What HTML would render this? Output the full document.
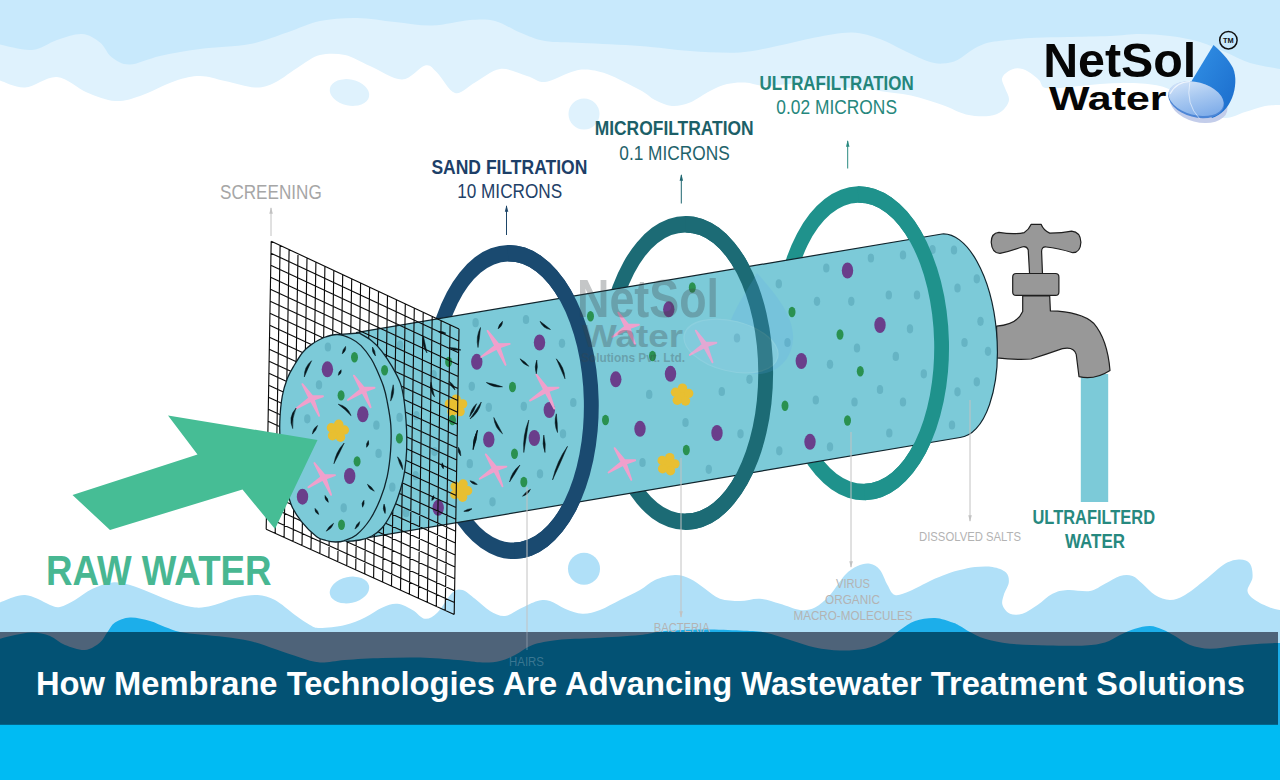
<!DOCTYPE html>
<html lang="en">
<head>
<meta charset="utf-8">
<title>How Membrane Technologies Are Advancing Wastewater Treatment Solutions</title>
<style>
html,body{margin:0;padding:0;background:#fff;}
body{width:1280px;height:780px;overflow:hidden;font-family:"Liberation Sans",sans-serif;}
svg{display:block;}
</style>
</head>
<body>
<svg width="1280" height="780" viewBox="0 0 1280 780">
<rect x="0" y="0" width="1280" height="780" fill="#ffffff"/>
<path d="M0 0 H1280 V105.0 L1280.0 105.0 C1277.5 105.2 1270.8 104.8 1265.0 106.0 C1259.2 107.2 1251.7 110.0 1245.0 112.0 C1238.3 114.0 1232.5 118.3 1225.0 118.0 C1217.5 117.7 1207.5 113.8 1200.0 110.0 C1192.5 106.2 1186.7 99.0 1180.0 95.0 C1173.3 91.0 1168.3 88.0 1160.0 86.0 C1151.7 84.0 1140.0 83.3 1130.0 83.0 C1120.0 82.7 1110.0 83.3 1100.0 84.0 C1090.0 84.7 1079.1 86.3 1070.0 87.0 C1060.9 87.7 1050.8 89.2 1045.6 88.0 C1040.4 86.8 1041.9 82.8 1039.0 80.0 C1036.1 77.2 1031.6 73.4 1028.0 71.4 C1024.4 69.5 1020.8 68.3 1017.5 68.3 C1014.2 68.3 1010.6 69.7 1008.0 71.4 C1005.4 73.1 1002.5 75.6 1002.0 78.4 C1001.5 81.2 1003.8 84.4 1005.0 88.0 C1006.2 91.6 1009.5 96.2 1009.0 100.0 C1008.5 103.8 1005.3 108.3 1002.0 111.0 C998.7 113.7 995.0 115.4 989.0 116.0 C983.0 116.6 973.8 116.2 966.0 114.4 C958.2 112.6 951.7 108.1 942.5 105.0 C933.3 101.9 921.4 97.9 911.0 95.6 C900.6 93.3 887.7 92.3 880.0 91.0 C872.3 89.7 871.7 88.6 865.0 88.0 C858.3 87.4 848.3 88.0 840.0 87.5 C831.7 87.0 823.3 85.6 815.0 85.0 C806.7 84.4 798.3 83.8 790.0 84.0 C781.7 84.2 772.5 86.2 765.0 86.0 C757.5 85.8 751.3 82.8 745.0 82.5 C738.7 82.2 732.8 82.6 727.0 84.0 C721.2 85.4 716.2 87.9 710.0 91.0 C703.8 94.1 696.3 100.0 690.0 102.5 C683.7 105.0 677.8 106.4 672.0 106.0 C666.2 105.6 660.3 102.7 655.0 100.0 C649.7 97.3 648.0 94.3 640.0 90.0 C632.0 85.7 616.2 77.4 607.0 74.0 C597.8 70.6 591.2 69.8 585.0 69.5 C578.8 69.2 576.7 70.4 570.0 72.5 C563.3 74.6 552.2 81.4 545.0 82.0 C537.8 82.6 534.5 78.2 527.0 76.0 C519.5 73.8 508.7 67.9 500.0 69.0 C491.3 70.1 482.5 78.5 475.0 82.5 C467.5 86.5 461.3 94.7 455.0 93.0 C448.7 91.3 442.0 77.1 437.0 72.5 C432.0 67.9 430.8 64.3 425.0 65.5 C419.2 66.7 411.2 79.4 402.0 79.5 C392.8 79.6 379.5 70.1 370.0 66.0 C360.5 61.9 353.3 56.8 345.0 55.0 C336.7 53.2 327.5 53.2 320.0 55.0 C312.5 56.8 307.5 61.4 300.0 66.0 C292.5 70.6 282.5 78.9 275.0 82.5 C267.5 86.1 263.3 87.8 255.0 87.5 C246.7 87.2 234.2 82.9 225.0 81.0 C215.8 79.1 208.3 76.0 200.0 76.0 C191.7 76.0 185.0 77.7 175.0 81.0 C165.0 84.3 150.0 92.7 140.0 96.0 C130.0 99.3 123.8 101.6 115.0 101.0 C106.2 100.4 96.7 96.5 87.0 92.5 C77.3 88.5 67.3 77.8 57.0 77.0 C46.7 76.2 34.5 86.9 25.0 87.5 C15.5 88.1 4.2 81.7 0.0 80.5 L0 0Z" fill="#dff2fd"/>
<path d="M0 0 H1280 V69.0 L1280.0 69.0 C1275.0 68.0 1259.2 65.8 1250.0 63.0 C1240.8 60.2 1233.3 55.5 1225.0 52.0 C1216.7 48.5 1209.2 44.7 1200.0 42.0 C1190.8 39.3 1180.0 37.3 1170.0 36.0 C1160.0 34.7 1150.0 34.0 1140.0 34.0 C1130.0 34.0 1122.1 35.5 1110.0 36.0 C1097.9 36.5 1079.8 36.7 1067.5 37.0 C1055.2 37.3 1045.1 37.4 1036.0 37.8 C1026.9 38.2 1020.8 38.6 1013.0 39.4 C1005.2 40.2 995.5 40.9 989.0 42.5 C982.5 44.1 979.2 45.9 974.0 48.8 C968.8 51.6 963.2 57.2 958.0 59.7 C952.8 62.2 947.7 63.4 942.5 63.6 C937.3 63.8 933.6 63.3 927.0 61.0 C920.4 58.7 910.8 53.7 903.0 50.0 C895.2 46.3 888.5 41.9 880.0 39.0 C871.5 36.1 862.8 32.8 852.0 32.5 C841.2 32.2 827.5 35.2 815.0 37.5 C802.5 39.8 789.5 43.5 777.0 46.0 C764.5 48.5 754.5 51.7 740.0 52.5 C725.5 53.3 706.7 52.1 690.0 51.0 C673.3 49.9 658.0 47.3 640.0 46.0 C622.0 44.7 597.8 43.8 582.0 43.0 C566.2 42.2 555.3 42.8 545.0 41.0 C534.7 39.2 528.3 35.8 520.0 32.5 C511.7 29.2 503.3 23.1 495.0 21.0 C486.7 18.9 480.5 19.2 470.0 20.0 C459.5 20.8 444.5 25.2 432.0 25.5 C419.5 25.8 407.5 23.2 395.0 22.0 C382.5 20.8 369.5 18.2 357.0 18.0 C344.5 17.8 331.7 18.6 320.0 21.0 C308.3 23.4 298.7 28.7 287.0 32.5 C275.3 36.3 264.5 41.2 250.0 44.0 C235.5 46.8 215.0 47.0 200.0 49.0 C185.0 51.0 171.7 53.4 160.0 56.0 C148.3 58.6 138.0 64.2 130.0 64.5 C122.0 64.8 117.0 61.2 112.0 57.5 C107.0 53.8 105.0 46.4 100.0 42.5 C95.0 38.6 89.2 34.4 82.0 34.0 C74.8 33.6 65.3 37.3 57.0 40.0 C48.7 42.7 41.5 49.2 32.0 50.0 C22.5 50.8 5.3 45.4 0.0 44.5 L0 0Z" fill="#c8e9fc"/>
<ellipse cx="349.5" cy="92.5" rx="20" ry="13" transform="rotate(12 349.5 92.5)" fill="#dff2fd"/>
<circle cx="584" cy="114" r="15.5" fill="#dff2fd"/>
<path d="M0 780 V602.5 L0.0 602.5 C2.1 601.7 8.3 598.8 12.5 597.5 C16.7 596.2 20.8 594.8 25.0 595.0 C29.2 595.2 33.3 597.1 37.5 598.8 C41.7 600.4 46.2 603.6 50.0 605.0 C53.8 606.4 55.8 607.8 60.0 607.0 C64.2 606.2 69.6 603.0 75.0 600.0 C80.4 597.0 86.2 591.7 92.5 588.8 C98.8 585.8 106.2 583.1 112.5 582.5 C118.8 581.9 123.8 583.3 130.0 585.0 C136.2 586.7 142.5 589.6 150.0 592.5 C157.5 595.4 167.5 600.0 175.0 602.5 C182.5 605.0 188.8 607.0 195.0 607.5 C201.2 608.0 205.4 607.2 212.5 605.5 C219.6 603.8 230.0 599.2 237.5 597.5 C245.0 595.8 251.2 594.6 257.5 595.0 C263.8 595.4 268.8 596.7 275.0 600.0 C281.2 603.3 289.2 610.8 295.0 615.0 C300.8 619.2 305.8 622.8 310.0 625.0 C314.2 627.2 314.2 628.0 320.0 628.0 C325.8 628.0 337.5 626.8 345.0 625.0 C352.5 623.2 358.8 620.4 365.0 617.5 C371.2 614.6 377.1 609.8 382.5 607.5 C387.9 605.2 392.5 603.3 397.5 603.8 C402.5 604.2 407.9 607.5 412.5 610.0 C417.1 612.5 420.8 618.3 425.0 618.8 C429.2 619.2 432.9 616.9 437.5 612.5 C442.1 608.1 448.3 596.2 452.5 592.5 C456.7 588.8 458.8 589.0 462.5 590.0 C466.2 591.0 470.4 595.2 475.0 598.8 C479.6 602.2 485.0 608.1 490.0 611.0 C495.0 613.9 500.0 616.4 505.0 616.0 C510.0 615.6 514.6 611.2 520.0 608.8 C525.4 606.2 532.5 602.3 537.5 601.0 C542.5 599.7 545.4 599.7 550.0 601.0 C554.6 602.3 559.6 606.6 565.0 608.8 C570.4 610.9 576.7 613.5 582.5 613.8 C588.3 614.0 593.8 612.3 600.0 610.0 C606.2 607.7 613.3 603.3 620.0 600.0 C626.7 596.7 634.2 593.3 640.0 590.0 C645.8 586.7 649.2 582.5 655.0 580.0 C660.8 577.5 669.2 575.2 675.0 575.0 C680.8 574.8 685.0 576.5 690.0 578.8 C695.0 581.0 700.0 585.4 705.0 588.8 C710.0 592.1 714.2 596.7 720.0 598.8 C725.8 600.8 733.3 601.0 740.0 601.0 C746.7 601.0 753.3 598.3 760.0 598.8 C766.7 599.2 773.3 601.9 780.0 603.8 C786.7 605.6 794.2 609.4 800.0 610.0 C805.8 610.6 810.0 610.0 815.0 607.5 C820.0 605.0 825.0 600.4 830.0 595.0 C835.0 589.6 840.4 579.8 845.0 575.0 C849.6 570.2 853.3 567.9 857.5 566.0 C861.7 564.1 866.2 563.1 870.0 563.8 C873.8 564.4 877.1 566.5 880.0 570.0 C882.9 573.5 885.0 580.8 887.5 585.0 C890.0 589.2 891.2 594.0 895.0 595.0 C898.8 596.0 904.2 593.3 910.0 591.0 C915.8 588.7 923.8 583.9 930.0 581.0 C936.2 578.1 942.5 575.6 947.5 573.8 C952.5 571.9 955.4 571.1 960.0 570.0 C964.6 568.9 969.6 567.5 975.0 567.0 C980.4 566.5 987.3 566.1 992.5 567.0 C997.7 567.9 1003.3 569.9 1006.0 572.5 C1008.7 575.1 1009.1 578.8 1008.8 582.5 C1008.4 586.2 1004.8 591.2 1003.8 595.0 C1002.7 598.8 1001.5 601.9 1002.5 605.0 C1003.5 608.1 1006.7 612.3 1010.0 613.8 C1013.3 615.2 1017.9 615.2 1022.5 613.8 C1027.1 612.3 1032.5 608.3 1037.5 605.0 C1042.5 601.7 1047.5 596.2 1052.5 593.8 C1057.5 591.2 1061.2 590.5 1067.5 590.0 C1073.8 589.5 1083.8 592.0 1090.0 591.0 C1096.2 590.0 1100.0 586.2 1105.0 583.8 C1110.0 581.2 1115.4 577.3 1120.0 576.0 C1124.6 574.7 1128.8 574.7 1132.5 576.0 C1136.2 577.3 1138.8 580.6 1142.5 583.8 C1146.2 586.9 1150.4 592.3 1155.0 595.0 C1159.6 597.7 1165.0 600.0 1170.0 600.0 C1175.0 600.0 1179.2 598.3 1185.0 595.0 C1190.8 591.7 1198.3 585.2 1205.0 580.0 C1211.7 574.8 1219.2 567.2 1225.0 563.8 C1230.8 560.3 1235.8 559.5 1240.0 559.5 C1244.2 559.5 1247.9 560.8 1250.0 563.8 C1252.1 566.8 1252.9 573.0 1252.5 577.5 C1252.1 582.0 1247.1 587.2 1247.5 591.0 C1247.9 594.8 1251.2 597.2 1255.0 600.0 C1258.8 602.8 1265.8 605.8 1270.0 607.5 C1274.2 609.2 1278.3 609.6 1280.0 610.0 V780Z" fill="#b0e0f8"/>
<ellipse cx="349.5" cy="590" rx="20" ry="13" transform="rotate(-12 349.5 590)" fill="#b0e0f8"/>
<circle cx="584" cy="568.75" r="16" fill="#b0e0f8"/>
<path d="M0 780 V638.8 L0.0 638.8 C2.5 638.1 9.6 636.0 15.0 635.0 C20.4 634.0 26.7 632.3 32.5 632.5 C38.3 632.7 44.6 633.9 50.0 636.0 C55.4 638.1 59.2 642.7 65.0 645.0 C70.8 647.3 79.2 650.4 85.0 650.0 C90.8 649.6 96.2 645.5 100.0 642.5 C103.8 639.5 105.0 635.3 107.5 632.0 C110.0 628.7 111.2 624.9 115.0 622.5 C118.8 620.1 124.2 617.8 130.0 617.5 C135.8 617.2 144.2 619.4 150.0 621.0 C155.8 622.6 160.0 625.2 165.0 627.0 C170.0 628.8 174.2 630.8 180.0 632.0 C185.8 633.2 192.5 633.7 200.0 634.5 C207.5 635.3 216.7 635.9 225.0 637.0 C233.3 638.1 241.7 639.0 250.0 641.0 C258.3 643.0 266.7 646.2 275.0 649.0 C283.3 651.8 292.5 655.2 300.0 657.5 C307.5 659.8 312.5 662.1 320.0 662.5 C327.5 662.9 334.6 660.8 345.0 660.0 C355.4 659.2 370.0 658.4 382.5 658.0 C395.0 657.6 407.5 657.2 420.0 657.5 C432.5 657.8 447.1 659.2 457.5 660.0 C467.9 660.8 475.4 662.3 482.5 662.5 C489.6 662.7 494.6 662.2 500.0 661.0 C505.4 659.8 509.6 657.7 515.0 655.0 C520.4 652.3 525.4 647.5 532.5 645.0 C539.6 642.5 547.1 641.2 557.5 640.0 C567.9 638.8 581.2 638.8 595.0 638.0 C608.8 637.2 628.3 636.2 640.0 635.0 C651.7 633.8 654.6 631.9 665.0 631.0 C675.4 630.1 690.0 629.6 702.5 629.5 C715.0 629.4 729.6 630.0 740.0 630.5 C750.4 631.0 756.7 630.9 765.0 632.5 C773.3 634.1 781.7 637.5 790.0 640.0 C798.3 642.5 806.7 645.8 815.0 647.5 C823.3 649.2 831.7 650.3 840.0 650.5 C848.3 650.7 857.5 650.3 865.0 648.8 C872.5 647.2 879.2 644.1 885.0 641.0 C890.8 637.9 895.0 633.3 900.0 630.0 C905.0 626.7 909.2 623.0 915.0 621.0 C920.8 619.0 928.8 617.8 935.0 618.0 C941.2 618.2 948.3 621.2 952.5 622.5 C956.7 623.8 957.1 624.4 960.0 626.0 C962.9 627.6 965.8 629.9 970.0 632.0 C974.2 634.1 978.3 636.8 985.0 638.8 C991.7 640.7 999.6 642.6 1010.0 643.8 C1020.4 644.9 1035.0 645.2 1047.5 645.5 C1060.0 645.8 1075.4 646.0 1085.0 645.5 C1094.6 645.0 1099.2 644.2 1105.0 642.5 C1110.8 640.8 1115.0 637.3 1120.0 635.0 C1125.0 632.7 1130.0 630.2 1135.0 628.8 C1140.0 627.2 1145.4 625.9 1150.0 626.0 C1154.6 626.1 1158.3 627.8 1162.5 629.5 C1166.7 631.2 1170.4 633.4 1175.0 636.0 C1179.6 638.6 1184.2 642.9 1190.0 645.0 C1195.8 647.1 1202.5 648.6 1210.0 648.8 C1217.5 648.9 1226.7 646.8 1235.0 646.0 C1243.3 645.2 1252.5 644.2 1260.0 643.8 C1267.5 643.2 1276.7 643.1 1280.0 643.0 V780Z" fill="#1caeea"/>
<rect x="1080.8" y="374" width="27.4" height="128" fill="#7ccad8"/>
<path d="M1022.7 295.9 L1022.7 311.6 Q1017.3 324.3 996.6 326.2 L996.6 357.8 Q1016.2 360.1 1031.2 359.0 Q1046.2 354.3 1062.4 348.6 Q1073.9 346.3 1076.2 354.3 L1079.0 376.7 Q1094.7 380.4 1110.0 370.5 Q1107.4 339.3 1093.6 323.2 Q1080.9 311.6 1050.4 310.9 L1049.7 295.9 Z" fill="#989898" stroke="#1e1e1e" stroke-width="1.2" stroke-linejoin="round"/>
<path d="M1029.6 274.2 L1028.2 249.7 Q1026.6 245.8 1022.0 247.0 Q1009.3 251.6 1000.0 253.4 Q991.9 253.4 991.2 242.3 Q991.2 233.1 998.9 232.4 Q1013.9 234.9 1024.3 232.6 Q1028.9 229.6 1031.2 224.3 L1041.1 224.3 Q1043.4 230.3 1049.7 233.1 Q1062.4 233.1 1071.6 231.2 Q1080.4 231.9 1080.9 242.3 Q1080.4 252.7 1072.8 252.7 Q1057.8 248.1 1046.2 247.0 Q1041.6 246.5 1041.6 251.6 L1042.5 274.2 Z" fill="#989898" stroke="#1e1e1e" stroke-width="1.2" stroke-linejoin="round"/>
<rect x="1012.7" y="273.5" width="46.2" height="21.9" rx="3.5" fill="#989898" stroke="#1e1e1e" stroke-width="1.2"/>
<path d="M511.1 244.9 A87.6 157.1 0 0 1 511.1 559.1 A87.6 157.1 0 0 1 511.1 244.9 Z M511.1 261.4 A72.8 140.6 0 0 1 511.1 542.6 A72.8 140.6 0 0 1 511.1 261.4 Z" fill="#1a4a70" fill-rule="evenodd" transform="rotate(-1.2 511.1 402.0)"/>
<path d="M685.5 215.9 A87.6 157.1 0 0 1 685.5 530.1 A87.6 157.1 0 0 1 685.5 215.9 Z M685.5 232.4 A72.8 140.6 0 0 1 685.5 513.6 A72.8 140.6 0 0 1 685.5 232.4 Z" fill="#1c6b75" fill-rule="evenodd" transform="rotate(0.0 685.5 373.0)"/>
<path d="M861.4 186.2 A87.6 157.1 0 0 1 861.4 500.4 A87.6 157.1 0 0 1 861.4 186.2 Z M861.4 202.7 A72.8 140.6 0 0 1 861.4 483.9 A72.8 140.6 0 0 1 861.4 202.7 Z" fill="#1f928c" fill-rule="evenodd" transform="rotate(-1.3 861.4 343.3)"/>
<path d="M356.0 332.6 L942.0 234.0 A46 102.15 -5.05 0 1 960.0 437.5 L346.0 541.3 Z" fill="#7ccad8"/>
<path d="M356.0 332.6 L942.0 234.0 A46 102.15 -5.05 0 1 960.0 437.5 L346.0 541.3" fill="none" stroke="#10242c" stroke-width="1.2"/>
<ellipse cx="400.0" cy="345.2" rx="3.2" ry="4.6" fill="#66b4c4"/>
<ellipse cx="448.6" cy="361.9" rx="3.5" ry="5.2" fill="#2a9150"/>
<ellipse cx="433.6" cy="374.5" rx="3.2" ry="4.6" fill="#66b4c4"/>
<circle cx="456.0" cy="406.0" r="6.9" fill="#e8bf31"/><circle cx="456.0" cy="399.1" r="4.7" fill="#e8bf31"/><circle cx="462.6" cy="403.9" r="4.7" fill="#e8bf31"/><circle cx="460.1" cy="411.6" r="4.7" fill="#e8bf31"/><circle cx="451.9" cy="411.6" r="4.7" fill="#e8bf31"/><circle cx="449.4" cy="403.9" r="4.7" fill="#e8bf31"/>
<ellipse cx="452.5" cy="420.0" rx="3.5" ry="5.2" fill="#2a9150"/>
<ellipse cx="416.4" cy="415.7" rx="3.2" ry="4.6" fill="#66b4c4"/>
<ellipse cx="434.5" cy="451.6" rx="3.2" ry="4.6" fill="#66b4c4"/>
<ellipse cx="415.6" cy="475.7" rx="3.2" ry="4.6" fill="#66b4c4"/>
<ellipse cx="438.2" cy="507.8" rx="5.7" ry="8.0" fill="#6a3e8b"/>
<ellipse cx="406.1" cy="512.7" rx="3.2" ry="4.6" fill="#66b4c4"/>
<circle cx="460.7" cy="490.5" r="6.9" fill="#e8bf31"/><circle cx="463.1" cy="484.0" r="4.7" fill="#e8bf31"/><circle cx="467.6" cy="490.7" r="4.7" fill="#e8bf31"/><circle cx="462.6" cy="497.2" r="4.7" fill="#e8bf31"/><circle cx="454.9" cy="494.4" r="4.7" fill="#e8bf31"/><circle cx="455.2" cy="486.2" r="4.7" fill="#e8bf31"/>
<path d="M423.3 335.8 Q421.2 345.2 427.0 353.0 Q425.3 344.4 423.3 335.8 Z" fill="#07161c" stroke="#07161c" stroke-width="0.5" stroke-linejoin="round"/>
<path d="M438.0 331.5 Q441.5 334.9 446.0 333.2 Q442.3 330.8 438.0 331.5 Z" fill="#07161c" stroke="#07161c" stroke-width="0.5" stroke-linejoin="round"/>
<path d="M449.0 347.5 Q454.5 351.3 461.0 350.0 Q455.3 347.2 449.0 347.5 Z" fill="#07161c" stroke="#07161c" stroke-width="0.5" stroke-linejoin="round"/>
<path d="M431.0 382.2 Q428.8 390.5 434.5 396.8 Q432.8 389.5 431.0 382.2 Z" fill="#07161c" stroke="#07161c" stroke-width="0.5" stroke-linejoin="round"/>
<path d="M449.0 381.3 Q450.7 386.5 455.0 390.0 Q454.2 384.2 449.0 381.3 Z" fill="#07161c" stroke="#07161c" stroke-width="0.5" stroke-linejoin="round"/>
<path d="M442.2 462.8 Q440.3 466.3 443.4 468.8 Q444.3 465.5 442.2 462.8 Z" fill="#07161c" stroke="#07161c" stroke-width="0.5" stroke-linejoin="round"/>
<path d="M431.9 500.6 Q435.2 498.9 433.6 495.5 Q431.3 497.6 431.9 500.6 Z" fill="#07161c" stroke="#07161c" stroke-width="0.5" stroke-linejoin="round"/>
<path d="M458.5 447.3 Q457.1 452.3 460.8 455.9 Q461.2 451.2 458.5 447.3 Z" fill="#07161c" stroke="#07161c" stroke-width="0.5" stroke-linejoin="round"/>
<ellipse cx="475.6" cy="322.7" rx="3.2" ry="4.6" fill="#66b4c4"/>
<ellipse cx="526.0" cy="319.5" rx="3.2" ry="4.6" fill="#66b4c4"/>
<ellipse cx="476.8" cy="361.8" rx="5.7" ry="8.0" fill="#6a3e8b"/>
<ellipse cx="471.8" cy="386.3" rx="3.2" ry="4.6" fill="#66b4c4"/>
<ellipse cx="539.5" cy="342.5" rx="5.7" ry="8.0" fill="#6a3e8b"/>
<ellipse cx="562.0" cy="343.3" rx="3.2" ry="4.6" fill="#66b4c4"/>
<ellipse cx="512.5" cy="387.0" rx="3.5" ry="5.2" fill="#2a9150"/>
<ellipse cx="549.3" cy="410.0" rx="5.7" ry="8.0" fill="#6a3e8b"/>
<ellipse cx="573.3" cy="402.5" rx="3.2" ry="4.6" fill="#66b4c4"/>
<ellipse cx="523.8" cy="406.3" rx="3.2" ry="4.6" fill="#66b4c4"/>
<ellipse cx="488.8" cy="407.3" rx="3.2" ry="4.6" fill="#66b4c4"/>
<ellipse cx="563.0" cy="433.8" rx="3.2" ry="4.6" fill="#66b4c4"/>
<ellipse cx="488.8" cy="439.5" rx="5.7" ry="8.0" fill="#6a3e8b"/>
<ellipse cx="534.3" cy="438.0" rx="5.7" ry="8.0" fill="#6a3e8b"/>
<ellipse cx="514.5" cy="453.8" rx="3.5" ry="5.2" fill="#2a9150"/>
<ellipse cx="469.8" cy="463.7" rx="3.2" ry="4.6" fill="#66b4c4"/>
<ellipse cx="540.0" cy="473.8" rx="3.2" ry="4.6" fill="#66b4c4"/>
<ellipse cx="523.8" cy="482.0" rx="3.5" ry="5.2" fill="#2a9150"/>
<ellipse cx="492.5" cy="501.8" rx="3.2" ry="4.6" fill="#66b4c4"/>
<path d="M487.6 330.9 L498.4 344.1 L509.7 343.9 L499.6 347.4 L505.5 364.9 L496.8 348.6 L481.2 356.9 L495.2 345.8Z" fill="#f0a0cc" stroke="#f0a0cc" stroke-width="1.9" stroke-linejoin="round"/>
<path d="M536.4 374.6 L547.2 387.8 L558.5 387.6 L548.4 391.1 L554.3 408.6 L545.6 392.3 L530.0 400.6 L544.0 389.5Z" fill="#f0a0cc" stroke="#f0a0cc" stroke-width="1.9" stroke-linejoin="round"/>
<path d="M485.8 454.4 L495.9 466.6 L506.4 466.6 L497.1 469.9 L502.5 486.2 L494.3 471.1 L479.8 478.7 L492.7 468.3Z" fill="#f0a0cc" stroke="#f0a0cc" stroke-width="1.9" stroke-linejoin="round"/>
<path d="M480.5 327.5 Q475.5 337.0 478.0 347.5 Q479.6 337.5 480.5 327.5 Z" fill="#07161c" stroke="#07161c" stroke-width="0.5" stroke-linejoin="round"/>
<path d="M498.0 328.8 Q502.5 326.4 502.5 321.3 Q498.9 324.2 498.0 328.8 Z" fill="#07161c" stroke="#07161c" stroke-width="0.5" stroke-linejoin="round"/>
<path d="M540.0 321.3 Q542.8 328.5 550.5 329.5 Q545.4 325.2 540.0 321.3 Z" fill="#07161c" stroke="#07161c" stroke-width="0.5" stroke-linejoin="round"/>
<path d="M520.0 358.8 Q522.7 364.5 528.8 366.3 Q525.4 361.4 520.0 358.8 Z" fill="#07161c" stroke="#07161c" stroke-width="0.5" stroke-linejoin="round"/>
<path d="M536.8 360.0 Q534.0 366.8 536.3 373.8 Q538.1 367.0 536.8 360.0 Z" fill="#07161c" stroke="#07161c" stroke-width="0.5" stroke-linejoin="round"/>
<path d="M556.3 358.8 Q560.7 368.8 565.0 378.8 Q564.5 367.1 556.3 358.8 Z" fill="#07161c" stroke="#07161c" stroke-width="0.5" stroke-linejoin="round"/>
<path d="M486.3 382.5 Q493.5 388.1 502.5 386.8 Q494.5 384.1 486.3 382.5 Z" fill="#07161c" stroke="#07161c" stroke-width="0.5" stroke-linejoin="round"/>
<path d="M481.3 402.0 Q475.5 410.4 470.0 419.0 Q479.0 412.7 481.3 402.0 Z" fill="#07161c" stroke="#07161c" stroke-width="0.5" stroke-linejoin="round"/>
<path d="M556.3 413.8 Q553.4 423.4 557.5 432.5 Q557.5 423.1 556.3 413.8 Z" fill="#07161c" stroke="#07161c" stroke-width="0.5" stroke-linejoin="round"/>
<path d="M493.8 417.5 Q494.6 427.6 502.5 433.8 Q498.2 425.6 493.8 417.5 Z" fill="#07161c" stroke="#07161c" stroke-width="0.5" stroke-linejoin="round"/>
<path d="M477.5 430.0 Q472.7 439.4 473.0 450.0 Q476.8 440.3 477.5 430.0 Z" fill="#07161c" stroke="#07161c" stroke-width="0.5" stroke-linejoin="round"/>
<path d="M528.8 420.0 Q522.4 435.7 523.8 452.5 Q526.5 436.3 528.8 420.0 Z" fill="#07161c" stroke="#07161c" stroke-width="0.5" stroke-linejoin="round"/>
<path d="M543.8 435.0 Q541.8 443.9 545.0 452.5 Q546.0 443.6 543.8 435.0 Z" fill="#07161c" stroke="#07161c" stroke-width="0.5" stroke-linejoin="round"/>
<path d="M567.5 446.3 Q556.6 461.6 552.5 480.0 Q560.4 463.3 567.5 446.3 Z" fill="#07161c" stroke="#07161c" stroke-width="0.5" stroke-linejoin="round"/>
<path d="M520.0 465.0 Q511.7 471.6 509.5 482.0 Q515.2 473.8 520.0 465.0 Z" fill="#07161c" stroke="#07161c" stroke-width="0.5" stroke-linejoin="round"/>
<path d="M470.0 480.7 Q472.5 484.9 477.3 484.4 Q474.4 481.2 470.0 480.7 Z" fill="#07161c" stroke="#07161c" stroke-width="0.5" stroke-linejoin="round"/>
<path d="M522.5 496.3 Q528.2 494.8 530.5 489.3 Q525.5 491.6 522.5 496.3 Z" fill="#07161c" stroke="#07161c" stroke-width="0.5" stroke-linejoin="round"/>
<path d="M463.8 511.3 Q468.7 512.5 472.0 508.8 Q467.4 508.6 463.8 511.3 Z" fill="#07161c" stroke="#07161c" stroke-width="0.5" stroke-linejoin="round"/>
<path d="M477.4 430.2 Q472.7 439.1 473.1 449.1 Q476.8 440.0 477.4 430.2 Z" fill="#07161c" stroke="#07161c" stroke-width="0.5" stroke-linejoin="round"/>
<path d="M476.6 403.7 Q470.9 408.9 469.7 416.6 Q474.5 410.9 476.6 403.7 Z" fill="#07161c" stroke="#07161c" stroke-width="0.5" stroke-linejoin="round"/>
<ellipse cx="590.5" cy="316.3" rx="3.5" ry="5.2" fill="#2a9150"/>
<ellipse cx="692.3" cy="287.5" rx="3.5" ry="5.2" fill="#2a9150"/>
<ellipse cx="668.8" cy="309.3" rx="5.7" ry="8.0" fill="#6a3e8b"/>
<ellipse cx="652.5" cy="356.0" rx="3.5" ry="5.2" fill="#2a9150"/>
<ellipse cx="615.8" cy="379.3" rx="5.7" ry="8.0" fill="#6a3e8b"/>
<ellipse cx="670.5" cy="373.8" rx="5.7" ry="8.0" fill="#6a3e8b"/>
<ellipse cx="649.2" cy="394.4" rx="3.2" ry="4.6" fill="#66b4c4"/>
<ellipse cx="721.8" cy="391.5" rx="3.2" ry="4.6" fill="#66b4c4"/>
<ellipse cx="737.0" cy="338.0" rx="3.2" ry="4.6" fill="#66b4c4"/>
<ellipse cx="749.5" cy="379.3" rx="3.2" ry="4.6" fill="#66b4c4"/>
<ellipse cx="605.5" cy="420.0" rx="3.5" ry="5.2" fill="#2a9150"/>
<ellipse cx="640.0" cy="428.8" rx="5.7" ry="8.0" fill="#6a3e8b"/>
<ellipse cx="685.5" cy="422.5" rx="3.2" ry="4.6" fill="#66b4c4"/>
<ellipse cx="717.0" cy="433.0" rx="5.7" ry="8.0" fill="#6a3e8b"/>
<ellipse cx="740.5" cy="433.8" rx="3.2" ry="4.6" fill="#66b4c4"/>
<ellipse cx="686.3" cy="450.0" rx="3.5" ry="5.2" fill="#2a9150"/>
<ellipse cx="642.5" cy="462.5" rx="3.2" ry="4.6" fill="#66b4c4"/>
<ellipse cx="708.8" cy="469.3" rx="3.2" ry="4.6" fill="#66b4c4"/>
<path d="M618.3 312.6 L628.4 324.8 L638.9 324.8 L629.6 328.1 L635.0 344.4 L626.8 329.3 L612.3 336.9 L625.2 326.5Z" fill="#f0a0cc" stroke="#f0a0cc" stroke-width="1.9" stroke-linejoin="round"/>
<path d="M695.8 330.6 L705.9 342.8 L716.4 342.8 L707.1 346.1 L712.5 362.4 L704.3 347.3 L689.8 354.9 L702.7 344.5Z" fill="#f0a0cc" stroke="#f0a0cc" stroke-width="1.9" stroke-linejoin="round"/>
<path d="M614.6 448.1 L624.7 460.3 L635.2 460.3 L625.9 463.6 L631.3 479.9 L623.1 464.8 L608.6 472.4 L621.5 462.0Z" fill="#f0a0cc" stroke="#f0a0cc" stroke-width="1.9" stroke-linejoin="round"/>
<circle cx="681.9" cy="395.0" r="6.9" fill="#e8bf31"/><circle cx="682.5" cy="388.1" r="4.7" fill="#e8bf31"/><circle cx="688.7" cy="393.4" r="4.7" fill="#e8bf31"/><circle cx="685.5" cy="401.0" r="4.7" fill="#e8bf31"/><circle cx="677.3" cy="400.2" r="4.7" fill="#e8bf31"/><circle cx="675.5" cy="392.3" r="4.7" fill="#e8bf31"/>
<circle cx="668.0" cy="464.3" r="6.9" fill="#e8bf31"/><circle cx="669.8" cy="457.6" r="4.7" fill="#e8bf31"/><circle cx="674.9" cy="463.9" r="4.7" fill="#e8bf31"/><circle cx="670.5" cy="470.8" r="4.7" fill="#e8bf31"/><circle cx="662.6" cy="468.7" r="4.7" fill="#e8bf31"/><circle cx="662.2" cy="460.5" r="4.7" fill="#e8bf31"/>
<ellipse cx="778.8" cy="283.8" rx="3.2" ry="4.6" fill="#66b4c4"/>
<ellipse cx="792.0" cy="312.0" rx="3.5" ry="5.2" fill="#2a9150"/>
<ellipse cx="847.5" cy="270.5" rx="5.7" ry="8.0" fill="#6a3e8b"/>
<ellipse cx="826.3" cy="268.0" rx="3.2" ry="4.6" fill="#66b4c4"/>
<ellipse cx="870.9" cy="258.0" rx="3.2" ry="4.6" fill="#66b4c4"/>
<ellipse cx="903.0" cy="255.0" rx="3.2" ry="4.6" fill="#66b4c4"/>
<ellipse cx="817.0" cy="301.3" rx="3.2" ry="4.6" fill="#66b4c4"/>
<ellipse cx="851.3" cy="301.3" rx="3.2" ry="4.6" fill="#66b4c4"/>
<ellipse cx="888.8" cy="295.0" rx="3.2" ry="4.6" fill="#66b4c4"/>
<ellipse cx="917.0" cy="295.0" rx="3.2" ry="4.6" fill="#66b4c4"/>
<ellipse cx="880.0" cy="325.0" rx="5.7" ry="8.0" fill="#6a3e8b"/>
<ellipse cx="840.0" cy="334.5" rx="3.5" ry="5.2" fill="#2a9150"/>
<ellipse cx="910.0" cy="328.8" rx="3.2" ry="4.6" fill="#66b4c4"/>
<ellipse cx="857.0" cy="348.0" rx="3.2" ry="4.6" fill="#66b4c4"/>
<ellipse cx="895.8" cy="356.4" rx="3.2" ry="4.6" fill="#66b4c4"/>
<ellipse cx="787.5" cy="342.5" rx="3.2" ry="4.6" fill="#66b4c4"/>
<ellipse cx="801.3" cy="361.0" rx="5.7" ry="8.0" fill="#6a3e8b"/>
<ellipse cx="830.0" cy="364.3" rx="3.2" ry="4.6" fill="#66b4c4"/>
<ellipse cx="860.3" cy="371.3" rx="3.5" ry="5.2" fill="#2a9150"/>
<ellipse cx="880.0" cy="389.5" rx="3.2" ry="4.6" fill="#66b4c4"/>
<ellipse cx="815.8" cy="400.0" rx="3.2" ry="4.6" fill="#66b4c4"/>
<ellipse cx="854.5" cy="402.0" rx="3.2" ry="4.6" fill="#66b4c4"/>
<ellipse cx="903.0" cy="402.0" rx="3.2" ry="4.6" fill="#66b4c4"/>
<ellipse cx="785.0" cy="405.8" rx="3.5" ry="5.2" fill="#2a9150"/>
<ellipse cx="847.5" cy="420.5" rx="3.5" ry="5.2" fill="#2a9150"/>
<ellipse cx="810.0" cy="441.8" rx="5.7" ry="8.0" fill="#6a3e8b"/>
<ellipse cx="830.0" cy="446.8" rx="3.2" ry="4.6" fill="#66b4c4"/>
<ellipse cx="779.3" cy="450.8" rx="3.2" ry="4.6" fill="#66b4c4"/>
<ellipse cx="889.3" cy="433.0" rx="3.2" ry="4.6" fill="#66b4c4"/>
<ellipse cx="932.5" cy="249.5" rx="3.2" ry="4.6" fill="#66b4c4"/>
<ellipse cx="954.0" cy="250.0" rx="3.2" ry="4.6" fill="#66b4c4"/>
<ellipse cx="976.8" cy="278.8" rx="3.2" ry="4.6" fill="#66b4c4"/>
<ellipse cx="957.5" cy="288.0" rx="3.2" ry="4.6" fill="#66b4c4"/>
<ellipse cx="980.5" cy="321.3" rx="3.2" ry="4.6" fill="#66b4c4"/>
<ellipse cx="964.5" cy="342.5" rx="3.2" ry="4.6" fill="#66b4c4"/>
<ellipse cx="988.0" cy="351.3" rx="3.2" ry="4.6" fill="#66b4c4"/>
<ellipse cx="923.8" cy="373.8" rx="3.2" ry="4.6" fill="#66b4c4"/>
<ellipse cx="976.8" cy="381.8" rx="3.2" ry="4.6" fill="#66b4c4"/>
<ellipse cx="957.5" cy="391.8" rx="3.2" ry="4.6" fill="#66b4c4"/>
<ellipse cx="952.0" cy="425.0" rx="3.2" ry="4.6" fill="#66b4c4"/>
<path d="M511.1 244.9 A87.6 157.1 0 0 1 511.1 559.1 L511.1 542.6 A72.8 140.6 0 0 0 511.1 261.4 Z" fill="#1a4a70" transform="rotate(-1.2 511.1 402.0)"/>
<path d="M685.5 215.9 A87.6 157.1 0 0 1 685.5 530.1 L685.5 513.6 A72.8 140.6 0 0 0 685.5 232.4 Z" fill="#1c6b75" transform="rotate(0.0 685.5 373.0)"/>
<path d="M861.4 186.2 A87.6 157.1 0 0 1 861.4 500.4 L861.4 483.9 A72.8 140.6 0 0 0 861.4 202.7 Z" fill="#1f928c" transform="rotate(-1.3 861.4 343.3)"/>
<path d="M271.2 241.2 L266.2 529.2 M280.1 245.4 L275.2 533.3 M289.1 249.6 L284.1 537.3 M298.0 253.7 L293.1 541.4 M307.0 257.9 L302.0 545.4 M315.9 262.1 L311.0 549.5 M324.9 266.3 L319.9 553.6 M333.8 270.5 L328.9 557.6 M342.7 274.6 L337.8 561.7 M351.7 278.8 L346.8 565.8 M360.6 283.0 L355.7 569.8 M369.6 287.2 L364.7 573.9 M378.5 291.4 L373.6 577.9 M387.5 295.6 L382.6 582.0 M396.4 299.7 L391.5 586.1 M405.3 303.9 L400.5 590.1 M414.3 308.1 L409.4 594.2 M423.2 312.3 L418.4 598.3 M432.2 316.5 L427.3 602.3 M441.1 320.6 L436.3 606.4 M450.1 324.8 L445.2 610.4 M459.0 329.0 L454.2 614.5 M271.2 241.2 L459.0 329.0 M271.0 253.2 L458.8 340.9 M270.8 265.2 L458.6 352.8 M270.6 277.2 L458.4 364.7 M270.4 289.2 L458.2 376.6 M270.2 301.2 L458.0 388.5 M269.9 313.2 L457.8 400.4 M269.7 325.2 L457.6 412.3 M269.5 337.2 L457.4 424.2 M269.3 349.2 L457.2 436.1 M269.1 361.2 L457.0 448.0 M268.9 373.2 L456.8 459.9 M268.7 385.2 L456.6 471.8 M268.5 397.2 L456.4 483.6 M268.3 409.2 L456.2 495.5 M268.1 421.2 L456.0 507.4 M267.9 433.2 L455.8 519.3 M267.7 445.2 L455.6 531.2 M267.4 457.2 L455.4 543.1 M267.2 469.2 L455.2 555.0 M267.0 481.2 L455.0 566.9 M266.8 493.2 L454.8 578.8 M266.6 505.2 L454.6 590.7 M266.4 517.2 L454.4 602.6 M266.2 529.2 L454.2 614.5" fill="none" stroke="#0c0c0c" stroke-width="1.15"/>
<path d="M359.0 333.0 C361.1 334.2 367.6 337.5 371.3 340.5 C375.1 343.5 378.1 346.5 381.5 350.8 C384.9 355.1 388.6 360.7 391.8 366.2 C395.0 371.7 398.5 378.0 400.5 383.6 C402.5 389.2 403.1 393.9 404.0 400.0 C404.9 406.1 405.5 413.3 406.0 420.0 C406.5 426.7 406.8 433.3 406.8 440.0 C406.8 446.7 406.6 453.3 406.0 460.0 C405.4 466.7 404.5 473.3 403.0 480.0 C401.5 486.7 399.1 494.2 397.0 500.0 C394.9 505.8 393.0 510.3 390.5 515.0 C388.0 519.7 385.1 524.5 382.0 528.0 C378.9 531.5 375.7 534.0 372.0 536.0 C368.3 538.0 364.3 539.1 360.0 540.0 C355.7 540.9 348.3 541.2 346.0 541.5 L335 541 L335 335 Z" fill="#7ccad8"/>
<path d="M337.5 334.6 L359 333 L359.0 333.0 C361.1 334.2 367.6 337.5 371.3 340.5 C375.1 343.5 378.1 346.5 381.5 350.8 C384.9 355.1 388.6 360.7 391.8 366.2 C395.0 371.7 398.5 378.0 400.5 383.6 C402.5 389.2 403.1 393.9 404.0 400.0 C404.9 406.1 405.5 413.3 406.0 420.0 C406.5 426.7 406.8 433.3 406.8 440.0 C406.8 446.7 406.6 453.3 406.0 460.0 C405.4 466.7 404.5 473.3 403.0 480.0 C401.5 486.7 399.1 494.2 397.0 500.0 C394.9 505.8 393.0 510.3 390.5 515.0 C388.0 519.7 385.1 524.5 382.0 528.0 C378.9 531.5 375.7 534.0 372.0 536.0 C368.3 538.0 364.3 539.1 360.0 540.0 C355.7 540.9 348.3 541.2 346.0 541.5" fill="none" stroke="#10242c" stroke-width="1.3"/>
<ellipse cx="384.6" cy="370.2" rx="3.5" ry="5.2" fill="#2a9150"/>
<ellipse cx="399.6" cy="417.4" rx="3.2" ry="4.6" fill="#66b4c4"/>
<ellipse cx="399.4" cy="438.4" rx="3.5" ry="5.2" fill="#2a9150"/>
<ellipse cx="392.3" cy="487.2" rx="3.2" ry="4.6" fill="#66b4c4"/>
<path d="M372.5 347.0 Q371.5 352.3 375.5 356.0 Q375.5 351.0 372.5 347.0 Z" fill="#07161c" stroke="#07161c" stroke-width="0.5" stroke-linejoin="round"/>
<path d="M393.2 384.8 Q391.0 392.8 390.6 401.1 Q395.1 393.5 393.2 384.8 Z" fill="#07161c" stroke="#07161c" stroke-width="0.5" stroke-linejoin="round"/>
<path d="M397.5 456.8 Q399.0 463.7 402.7 469.7 Q402.8 462.1 397.5 456.8 Z" fill="#07161c" stroke="#07161c" stroke-width="0.5" stroke-linejoin="round"/>
<path d="M384.1 504.0 Q382.0 509.0 385.1 513.5 Q386.2 508.6 384.1 504.0 Z" fill="#07161c" stroke="#07161c" stroke-width="0.5" stroke-linejoin="round"/>
<path d="M337.5 334.5 C342.0 334.7 346.9 336.6 350.8 338.5 C354.7 340.4 357.6 342.2 361.0 345.6 C364.4 349.0 368.6 354.7 371.3 359.0 C374.0 363.3 375.3 366.7 377.4 371.3 C379.4 375.9 382.0 381.9 383.6 386.7 C385.2 391.5 385.7 393.6 386.9 400.0 C388.1 406.4 390.2 416.5 390.8 425.0 C391.4 433.5 391.2 442.2 390.6 450.8 C390.0 459.4 388.9 468.6 387.2 476.6 C385.5 484.6 383.2 491.8 380.3 498.9 C377.4 506.0 374.0 513.5 370.0 519.5 C366.0 525.5 360.6 531.5 356.3 535.0 C352.0 538.5 347.4 539.6 344.0 540.8 C340.6 542.0 338.6 542.0 335.6 542.0 C332.6 542.0 329.1 541.4 326.0 540.5 C322.9 539.6 320.8 539.9 316.7 536.7 C312.6 533.5 305.6 526.8 301.3 521.3 C297.0 515.8 293.8 511.6 290.9 504.0 C288.0 496.4 285.9 485.0 284.2 476.0 C282.5 467.0 281.3 459.1 280.6 450.0 C279.9 440.9 279.5 430.7 279.8 421.7 C280.1 412.7 281.0 403.3 282.3 396.0 C283.6 388.7 285.5 383.2 287.5 378.0 C289.5 372.8 291.8 369.3 294.4 365.0 C297.0 360.7 300.1 355.4 303.0 352.0 C305.9 348.6 308.1 346.8 311.6 344.4 C315.1 342.0 319.7 339.1 324.0 337.5 C328.3 335.9 333.0 334.3 337.5 334.5Z" fill="#7ccad8" stroke="#10242c" stroke-width="1.3"/>
<ellipse cx="327.9" cy="347.0" rx="3.2" ry="4.6" fill="#66b4c4"/>
<ellipse cx="354.5" cy="357.3" rx="3.5" ry="5.2" fill="#2a9150"/>
<ellipse cx="327.4" cy="369.3" rx="5.7" ry="8.0" fill="#6a3e8b"/>
<ellipse cx="319.0" cy="384.8" rx="3.2" ry="4.6" fill="#66b4c4"/>
<ellipse cx="341.1" cy="395.4" rx="3.5" ry="5.2" fill="#2a9150"/>
<ellipse cx="362.8" cy="414.3" rx="5.7" ry="8.0" fill="#6a3e8b"/>
<ellipse cx="307.3" cy="418.8" rx="3.2" ry="4.6" fill="#66b4c4"/>
<ellipse cx="376.4" cy="425.2" rx="3.2" ry="4.6" fill="#66b4c4"/>
<ellipse cx="378.6" cy="453.4" rx="3.2" ry="4.6" fill="#66b4c4"/>
<ellipse cx="357.1" cy="461.4" rx="3.5" ry="5.2" fill="#2a9150"/>
<ellipse cx="349.7" cy="476.0" rx="5.7" ry="8.0" fill="#6a3e8b"/>
<ellipse cx="302.5" cy="496.7" rx="5.7" ry="8.0" fill="#6a3e8b"/>
<ellipse cx="343.7" cy="507.8" rx="3.2" ry="4.6" fill="#66b4c4"/>
<ellipse cx="341.5" cy="524.7" rx="3.5" ry="5.2" fill="#2a9150"/>
<path d="M302.4 384.1 L312.5 396.3 L323.0 396.3 L313.7 399.6 L319.1 415.9 L310.9 400.8 L296.4 408.4 L309.3 398.0Z" fill="#f0a0cc" stroke="#f0a0cc" stroke-width="1.9" stroke-linejoin="round"/>
<path d="M353.9 375.6 L364.0 387.8 L374.5 387.8 L365.2 391.1 L370.6 407.4 L362.4 392.3 L347.9 399.9 L360.8 389.5Z" fill="#f0a0cc" stroke="#f0a0cc" stroke-width="1.9" stroke-linejoin="round"/>
<path d="M314.4 463.0 L324.5 475.2 L335.0 475.2 L325.7 478.5 L331.1 494.8 L322.9 479.7 L308.4 487.3 L321.3 476.9Z" fill="#f0a0cc" stroke="#f0a0cc" stroke-width="1.9" stroke-linejoin="round"/>
<circle cx="337.5" cy="431.0" r="6.9" fill="#e8bf31"/><circle cx="338.7" cy="424.2" r="4.7" fill="#e8bf31"/><circle cx="344.4" cy="430.0" r="4.7" fill="#e8bf31"/><circle cx="340.5" cy="437.2" r="4.7" fill="#e8bf31"/><circle cx="332.5" cy="435.8" r="4.7" fill="#e8bf31"/><circle cx="331.4" cy="427.7" r="4.7" fill="#e8bf31"/>
<path d="M342.2 353.8 Q346.3 351.2 345.6 346.4 Q342.5 349.4 342.2 353.8 Z" fill="#07161c" stroke="#07161c" stroke-width="0.5" stroke-linejoin="round"/>
<path d="M311.6 360.7 Q303.9 367.1 304.3 377.0 Q307.7 368.8 311.6 360.7 Z" fill="#07161c" stroke="#07161c" stroke-width="0.5" stroke-linejoin="round"/>
<path d="M338.2 375.3 Q341.9 373.8 341.1 369.8 Q338.3 371.8 338.2 375.3 Z" fill="#07161c" stroke="#07161c" stroke-width="0.5" stroke-linejoin="round"/>
<path d="M338.2 404.2 Q345.2 409.3 351.1 415.7 Q348.0 406.2 338.2 404.2 Z" fill="#07161c" stroke="#07161c" stroke-width="0.5" stroke-linejoin="round"/>
<path d="M296.1 408.0 Q287.7 417.2 292.7 428.6 Q291.8 417.9 296.1 408.0 Z" fill="#07161c" stroke="#07161c" stroke-width="0.5" stroke-linejoin="round"/>
<path d="M317.6 425.5 Q312.8 428.5 312.4 434.1 Q316.3 430.6 317.6 425.5 Z" fill="#07161c" stroke="#07161c" stroke-width="0.5" stroke-linejoin="round"/>
<path d="M366.6 447.3 Q370.0 444.5 368.3 440.5 Q365.9 443.5 366.6 447.3 Z" fill="#07161c" stroke="#07161c" stroke-width="0.5" stroke-linejoin="round"/>
<path d="M344.2 443.0 Q335.7 451.7 333.9 463.7 Q339.4 453.5 344.2 443.0 Z" fill="#07161c" stroke="#07161c" stroke-width="0.5" stroke-linejoin="round"/>
<path d="M367.4 484.3 Q369.0 489.6 374.3 491.2 Q372.0 486.6 367.4 484.3 Z" fill="#07161c" stroke="#07161c" stroke-width="0.5" stroke-linejoin="round"/>
<path d="M325.0 495.5 Q324.4 500.1 328.4 502.3 Q328.1 498.2 325.0 495.5 Z" fill="#07161c" stroke="#07161c" stroke-width="0.5" stroke-linejoin="round"/>
<path d="M364.0 500.3 Q360.8 503.2 362.6 507.2 Q364.8 504.1 364.0 500.3 Z" fill="#07161c" stroke="#07161c" stroke-width="0.5" stroke-linejoin="round"/>
<path d="M315.0 508.4 Q314.7 512.8 318.8 514.4 Q318.2 510.6 315.0 508.4 Z" fill="#07161c" stroke="#07161c" stroke-width="0.5" stroke-linejoin="round"/>
<path d="M326.2 531.2 Q331.8 529.0 333.6 523.3 Q328.8 526.2 326.2 531.2 Z" fill="#07161c" stroke="#07161c" stroke-width="0.5" stroke-linejoin="round"/>
<path d="M354.9 529.0 Q359.5 526.7 359.7 521.6 Q356.0 524.5 354.9 529.0 Z" fill="#07161c" stroke="#07161c" stroke-width="0.5" stroke-linejoin="round"/>
<path d="M72.5 495 L110 530 L242.5 489.5 L275 529 L317.5 440 L168 415.5 L197.5 454.5 Z" fill="#46bd95"/>
<path d="M271.0 208.0 V236.0" stroke="#c2c2c2" stroke-width="1.0" fill="none"/><path d="M271.0 207.0 l-1.7 6.7 h3.5 Z" fill="#c2c2c2"/>
<path d="M506.5 206.0 V235.0" stroke="#1d4567" stroke-width="1.0" fill="none"/><path d="M506.5 205.0 l-1.7 6.7 h3.5 Z" fill="#1d4567"/>
<path d="M681.3 175.0 V203.5" stroke="#1f6670" stroke-width="1.0" fill="none"/><path d="M681.3 174.0 l-1.7 6.7 h3.5 Z" fill="#1f6670"/>
<path d="M847.7 141.0 V168.5" stroke="#2a8a80" stroke-width="1.0" fill="none"/><path d="M847.7 140.0 l-1.7 6.7 h3.5 Z" fill="#2a8a80"/>
<path d="M527.0 487.0 V650.0" stroke="#c2c2c2" stroke-width="1.0" fill="none"/><path d="M527.0 651.0 l-1.7 -6.7 h3.5 Z" fill="#c2c2c2"/>
<path d="M681.0 458.0 V617.0" stroke="#c2c2c2" stroke-width="1.0" fill="none"/><path d="M681.0 618.0 l-1.7 -6.7 h3.5 Z" fill="#c2c2c2"/>
<path d="M851.0 432.0 V567.0" stroke="#c2c2c2" stroke-width="1.0" fill="none"/><path d="M851.0 568.0 l-1.7 -6.7 h3.5 Z" fill="#c2c2c2"/>
<path d="M970.0 400.0 V521.0" stroke="#c2c2c2" stroke-width="1.0" fill="none"/><path d="M970.0 522.0 l-1.7 -6.7 h3.5 Z" fill="#c2c2c2"/>
<text x="220.0" y="198.9" textLength="101.7" lengthAdjust="spacingAndGlyphs" font-family="'Liberation Sans', sans-serif" font-weight="400" font-size="20.5" fill="#a6a6a6" text-anchor="start">SCREENING</text>
<text x="431.4" y="173.9" textLength="156.0" lengthAdjust="spacingAndGlyphs" font-family="'Liberation Sans', sans-serif" font-weight="700" font-size="19.5" fill="#1d3f68" text-anchor="start">SAND FILTRATION</text>
<text x="457.2" y="197.6" textLength="105.0" lengthAdjust="spacingAndGlyphs" font-family="'Liberation Sans', sans-serif" font-weight="400" font-size="19.5" fill="#1f4168" text-anchor="start">10 MICRONS</text>
<text x="594.7" y="135.0" textLength="159.0" lengthAdjust="spacingAndGlyphs" font-family="'Liberation Sans', sans-serif" font-weight="700" font-size="19.5" fill="#1c5f68" text-anchor="start">MICROFILTRATION</text>
<text x="619.3" y="159.6" textLength="110.4" lengthAdjust="spacingAndGlyphs" font-family="'Liberation Sans', sans-serif" font-weight="400" font-size="19.5" fill="#1f636b" text-anchor="start">0.1 MICRONS</text>
<text x="759.5" y="90.2" textLength="154.2" lengthAdjust="spacingAndGlyphs" font-family="'Liberation Sans', sans-serif" font-weight="700" font-size="19.5" fill="#24857b" text-anchor="start">ULTRAFILTRATION</text>
<text x="776.3" y="114.4" textLength="120.7" lengthAdjust="spacingAndGlyphs" font-family="'Liberation Sans', sans-serif" font-weight="400" font-size="19.5" fill="#26877d" text-anchor="start">0.02 MICRONS</text>
<text x="45.9" y="585.3" textLength="225.7" lengthAdjust="spacingAndGlyphs" font-family="'Liberation Sans', sans-serif" font-weight="700" font-size="43.1" fill="#48b792" text-anchor="start">RAW WATER</text>
<text x="653.7" y="631.7" textLength="56.0" lengthAdjust="spacingAndGlyphs" font-family="'Liberation Sans', sans-serif" font-weight="400" font-size="12.0" fill="#b3b3b3" text-anchor="start">BACTERIA</text>
<text x="836.0" y="587.5" textLength="34.0" lengthAdjust="spacingAndGlyphs" font-family="'Liberation Sans', sans-serif" font-weight="400" font-size="12.5" fill="#b3b3b3" text-anchor="start">VIRUS</text>
<text x="825.0" y="604.0" textLength="55.0" lengthAdjust="spacingAndGlyphs" font-family="'Liberation Sans', sans-serif" font-weight="400" font-size="12.5" fill="#b3b3b3" text-anchor="start">ORGANIC</text>
<text x="793.5" y="620.0" textLength="119.0" lengthAdjust="spacingAndGlyphs" font-family="'Liberation Sans', sans-serif" font-weight="400" font-size="12.5" fill="#b3b3b3" text-anchor="start">MACRO-MOLECULES</text>
<text x="919.0" y="541.0" textLength="102.0" lengthAdjust="spacingAndGlyphs" font-family="'Liberation Sans', sans-serif" font-weight="400" font-size="12.5" fill="#b3b3b3" text-anchor="start">DISSOLVED SALTS</text>
<text x="1032.5" y="524.0" textLength="122.5" lengthAdjust="spacingAndGlyphs" font-family="'Liberation Sans', sans-serif" font-weight="700" font-size="20.0" fill="#27897f" text-anchor="start">ULTRAFILTERD</text>
<text x="1065.0" y="547.5" textLength="60.0" lengthAdjust="spacingAndGlyphs" font-family="'Liberation Sans', sans-serif" font-weight="700" font-size="20.0" fill="#27897f" text-anchor="start">WATER</text>
<text x="1043.2" y="77.1" textLength="153.0" lengthAdjust="spacingAndGlyphs" font-family="'Liberation Sans', sans-serif" font-weight="700" font-size="48.0" fill="#060606" text-anchor="start">NetSol</text>
<text x="1049.0" y="109.8" textLength="117.5" lengthAdjust="spacingAndGlyphs" font-family="'Liberation Sans', sans-serif" font-weight="700" font-size="33.0" fill="#060606" text-anchor="start">Water</text>
<defs><linearGradient id="dg" x1="0" y1="0" x2="1" y2="1"><stop offset="0" stop-color="#3291e6"/><stop offset="1" stop-color="#1a6bcb"/></linearGradient><linearGradient id="lg" x1="0" y1="0" x2="1" y2="1"><stop offset="0" stop-color="#e2eefc"/><stop offset="0.45" stop-color="#a9c9f1"/><stop offset="1" stop-color="#6fa2e6"/></linearGradient></defs>
<ellipse cx="1198.6" cy="103.8" rx="29.5" ry="18.3" transform="rotate(15 1198.6 103.8)" fill="#c3cdea"/>
<path d="M1213.5 44.9 C1220 50 1229 60 1233 68 C1236.5 76 1236 88 1232 98 C1228 108 1221 115 1212 118 L1191.3 81.5 Z" fill="url(#dg)"/>
<ellipse cx="1196.2" cy="99.8" rx="28.6" ry="17.4" transform="rotate(15 1196.2 99.8)" fill="#4d86d6"/>
<ellipse cx="1196" cy="98.6" rx="28.2" ry="16.4" transform="rotate(15 1196 98.6)" fill="url(#lg)"/>
<path d="M1189.8 82.5 Q1185.5 104 1199.5 118.5" fill="none" stroke="#ffffff" stroke-opacity="0.55" stroke-width="1"/>
<path d="M1170 94 Q1176 82 1190 81.5" fill="none" stroke="#ffffff" stroke-opacity="0.7" stroke-width="1.2"/>
<circle cx="1228.4" cy="40.2" r="8.7" fill="none" stroke="#111" stroke-width="1.5"/>
<text x="1228.4" y="42.9" font-family="'Liberation Sans', sans-serif" font-weight="700" font-size="7.4" fill="#111" text-anchor="middle">TM</text>
<g opacity="0.30">
<text x="577.0" y="316.8" textLength="142.0" lengthAdjust="spacingAndGlyphs" font-family="'Liberation Sans', sans-serif" font-weight="700" font-size="53.0" fill="#3e4548" text-anchor="start">NetSol</text>
<text x="582.0" y="347.0" textLength="101.0" lengthAdjust="spacingAndGlyphs" font-family="'Liberation Sans', sans-serif" font-weight="700" font-size="32.0" fill="#3e4548" text-anchor="start">Water</text>
<text x="581.0" y="362.3" textLength="104.0" lengthAdjust="spacingAndGlyphs" font-family="'Liberation Sans', sans-serif" font-weight="700" font-size="12.5" fill="#3e4548" text-anchor="start">Solutions Pvt. Ltd.</text>
</g>
<g opacity="0.17">
<path d="M757 273 C772 290 795 315 793 340 C791 362 775 374 757 374 C740 374 727 362 726 345 C725 320 745 295 757 273Z" fill="#5aa6ee"/>
<ellipse cx="731" cy="346" rx="48" ry="25" transform="rotate(14 731 346)" fill="#9fd0f5" stroke="#d8ecfc" stroke-width="1.2"/>
</g>
<clipPath id="bn"><rect x="0" y="632" width="1278" height="93"/></clipPath>
<rect x="0" y="632" width="1278" height="93" fill="#4e6379"/>
<path d="M0 780 V638.8 L0.0 638.8 C2.5 638.1 9.6 636.0 15.0 635.0 C20.4 634.0 26.7 632.3 32.5 632.5 C38.3 632.7 44.6 633.9 50.0 636.0 C55.4 638.1 59.2 642.7 65.0 645.0 C70.8 647.3 79.2 650.4 85.0 650.0 C90.8 649.6 96.2 645.5 100.0 642.5 C103.8 639.5 105.0 635.3 107.5 632.0 C110.0 628.7 111.2 624.9 115.0 622.5 C118.8 620.1 124.2 617.8 130.0 617.5 C135.8 617.2 144.2 619.4 150.0 621.0 C155.8 622.6 160.0 625.2 165.0 627.0 C170.0 628.8 174.2 630.8 180.0 632.0 C185.8 633.2 192.5 633.7 200.0 634.5 C207.5 635.3 216.7 635.9 225.0 637.0 C233.3 638.1 241.7 639.0 250.0 641.0 C258.3 643.0 266.7 646.2 275.0 649.0 C283.3 651.8 292.5 655.2 300.0 657.5 C307.5 659.8 312.5 662.1 320.0 662.5 C327.5 662.9 334.6 660.8 345.0 660.0 C355.4 659.2 370.0 658.4 382.5 658.0 C395.0 657.6 407.5 657.2 420.0 657.5 C432.5 657.8 447.1 659.2 457.5 660.0 C467.9 660.8 475.4 662.3 482.5 662.5 C489.6 662.7 494.6 662.2 500.0 661.0 C505.4 659.8 509.6 657.7 515.0 655.0 C520.4 652.3 525.4 647.5 532.5 645.0 C539.6 642.5 547.1 641.2 557.5 640.0 C567.9 638.8 581.2 638.8 595.0 638.0 C608.8 637.2 628.3 636.2 640.0 635.0 C651.7 633.8 654.6 631.9 665.0 631.0 C675.4 630.1 690.0 629.6 702.5 629.5 C715.0 629.4 729.6 630.0 740.0 630.5 C750.4 631.0 756.7 630.9 765.0 632.5 C773.3 634.1 781.7 637.5 790.0 640.0 C798.3 642.5 806.7 645.8 815.0 647.5 C823.3 649.2 831.7 650.3 840.0 650.5 C848.3 650.7 857.5 650.3 865.0 648.8 C872.5 647.2 879.2 644.1 885.0 641.0 C890.8 637.9 895.0 633.3 900.0 630.0 C905.0 626.7 909.2 623.0 915.0 621.0 C920.8 619.0 928.8 617.8 935.0 618.0 C941.2 618.2 948.3 621.2 952.5 622.5 C956.7 623.8 957.1 624.4 960.0 626.0 C962.9 627.6 965.8 629.9 970.0 632.0 C974.2 634.1 978.3 636.8 985.0 638.8 C991.7 640.7 999.6 642.6 1010.0 643.8 C1020.4 644.9 1035.0 645.2 1047.5 645.5 C1060.0 645.8 1075.4 646.0 1085.0 645.5 C1094.6 645.0 1099.2 644.2 1105.0 642.5 C1110.8 640.8 1115.0 637.3 1120.0 635.0 C1125.0 632.7 1130.0 630.2 1135.0 628.8 C1140.0 627.2 1145.4 625.9 1150.0 626.0 C1154.6 626.1 1158.3 627.8 1162.5 629.5 C1166.7 631.2 1170.4 633.4 1175.0 636.0 C1179.6 638.6 1184.2 642.9 1190.0 645.0 C1195.8 647.1 1202.5 648.6 1210.0 648.8 C1217.5 648.9 1226.7 646.8 1235.0 646.0 C1243.3 645.2 1252.5 644.2 1260.0 643.8 C1267.5 643.2 1276.7 643.1 1280.0 643.0 V780Z" fill="#035274" clip-path="url(#bn)"/>
<path d="M527 632 V650" stroke="#ffffff" stroke-opacity="0.28" stroke-width="1.1" fill="none"/>
<text x="509.0" y="666.0" textLength="35.0" lengthAdjust="spacingAndGlyphs" font-family="'Liberation Sans', sans-serif" font-weight="400" font-size="12.0" fill="#ffffff" text-anchor="start" fill-opacity="0.22">HAIRS</text>
<rect x="0" y="724.8" width="1280" height="56" fill="#00bbf3"/>
<text x="36" y="695" textLength="1209" lengthAdjust="spacingAndGlyphs" font-family="'Liberation Sans', sans-serif" font-weight="700" font-size="33" fill="#ffffff">How Membrane Technologies Are Advancing Wastewater Treatment Solutions</text>
</svg>
</body>
</html>
